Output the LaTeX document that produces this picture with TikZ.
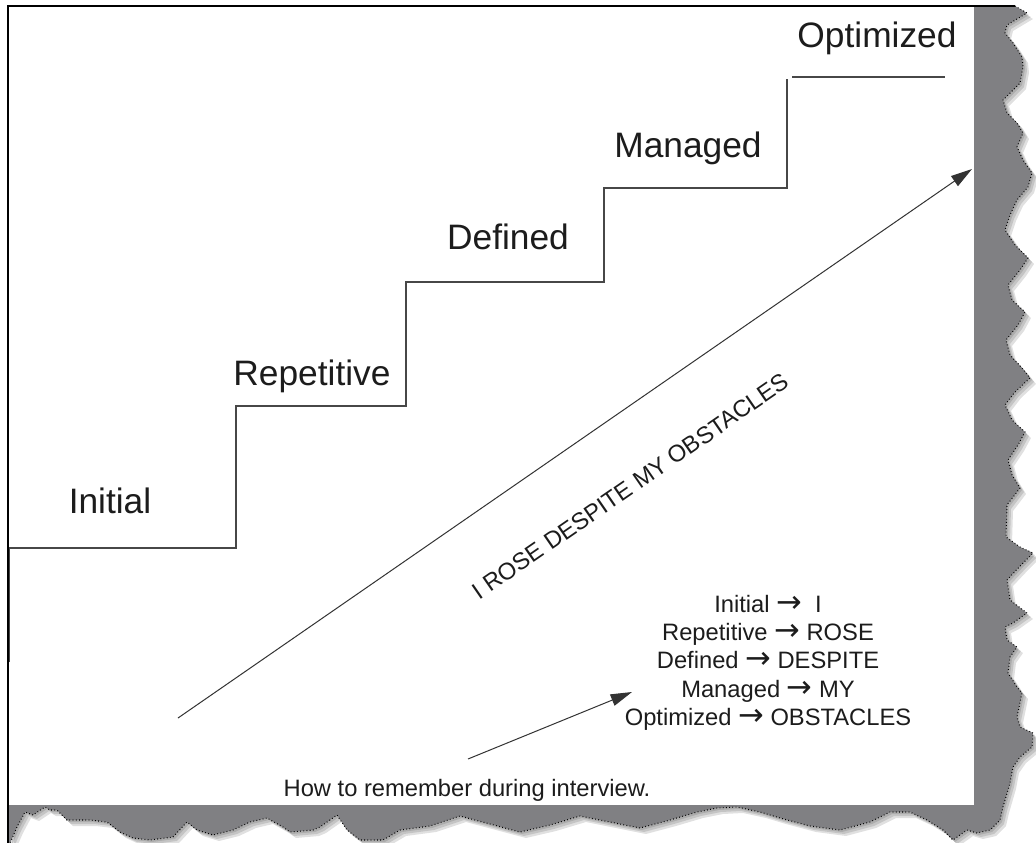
\documentclass[tikz,border=0pt]{standalone}
\usepackage{fontspec}
\setmainfont{Liberation Sans}
\newfontfamily\arrowfont{DejaVu Sans}
\newcommand\myarr{\raisebox{-0.6pt}{\arrowfont\fontsize{23}{21}\selectfont →}}
\usetikzlibrary{arrows.meta}
\definecolor{edgegray}{RGB}{128,128,131}
\definecolor{ink}{RGB}{28,28,28}
\begin{document}
\begin{tikzpicture}[x=0.75pt,y=-0.75pt,
  steplabel/.style={font=\fontsize{26.5}{30}\selectfont, text=ink, anchor=base, inner sep=0pt},
  smalltext/.style={font=\fontsize{17.8}{21}\selectfont, text=ink, anchor=base, inner sep=0pt},
  stair/.style={draw=black!72, line width=1.1pt},
  arr/.style={draw=black!80, line width=0.75pt, -{Triangle[length=16pt,width=9pt]}},
  tornedge/.style={draw=black, line width=0.8pt, dash pattern=on 0.6pt off 1.8pt},
  edgepts/.style={insert path={-- (1015,6) -- (1027,13) -- (1007,25) -- (1005,33) -- (1013,43) -- (1022,57) -- (1023,67) -- (1020,83) -- (1013,90) -- (1003,100) -- (1007,113) -- (1017,123) -- (1023,133) -- (1017,147) -- (1023,160) -- (1032,173) -- (1028,187) -- (1017,200) -- (1010,215) -- (1005,230) -- (1015,245) -- (1028,258) -- (1020,270) -- (1008,285) -- (1012,300) -- (1025,312) -- (1018,325) -- (1006,340) -- (1010,355) -- (1022,368) -- (1030,378) -- (1015,392) -- (1005,405) -- (1012,420) -- (1025,432) -- (1018,445) -- (1008,460) -- (1012,475) -- (1020,488) -- (1007,505) -- (1006,537) -- (1020,547) -- (1033,553) -- (1023,563) -- (1007,580) -- (1010,600) -- (1027,613) -- (1013,623) -- (1005,627) -- (1007,640) -- (1017,647) -- (1010,657) -- (1008,673) -- (1017,687) -- (1022,693) -- (1017,717) -- (1020,727) -- (1033,733) -- (1032,747) -- (1020,757) -- (1013,767) -- (1010,783) -- (1003,807) -- (1000,820) -- (990,830) -- (977,833) -- (967,830) -- (953,840) -- (943,830) -- (927,820) -- (910,812) -- (890,812) -- (870,822) -- (840,830) -- (810,826) -- (780,818) -- (760,812) -- (737,807) -- (717,808) -- (697,812) -- (670,820) -- (640,828) -- (610,822) -- (580,816) -- (550,825) -- (520,832) -- (490,824) -- (460,816) -- (430,826) -- (400,830) -- (383,840) -- (360,840) -- (347,830) -- (337,815) -- (320,827) -- (313,830) -- (290,832) -- (283,827) -- (267,818) -- (250,822) -- (233,830) -- (213,835) -- (197,830) -- (187,822) -- (173,837) -- (150,840) -- (133,838) -- (120,832) -- (107,822) -- (90,820) -- (80,820) -- (67,820) -- (57,810) -- (50,810) -- (45,807) -- (33,815) -- (25,812) -- (17,827) -- (10,843)}}
]
\useasboundingbox (0,0) rectangle (1036,843);
\fill[white] (0,0) rectangle (1036,843);

% torn edge with soft shadow
\foreach \d in {2,4,6}{
  \fill[black, opacity=0.12, shift={(\d,\d)}] (8,6) [edgepts] -- (8,843) -- cycle;
}
\fill[edgegray] (8,6) [edgepts] -- (8,843) -- cycle;
\fill[white] (8,6) rectangle (974,805);
\draw[tornedge] (1015,6) [edgepts];
\draw[black, line width=1.5pt] (8,843) -- (8,6) -- (1015,6);

% stairs
\draw[stair] (9.5,662) -- (9.5,548) -- (236,548) -- (236,406) -- (406,406) -- (406,282)
  -- (604,282) -- (604,188) -- (787,188) -- (787,79);
\draw[stair] (792,77) -- (945,77);

% step labels
\node[steplabel] (initial) at (110,513) {Initial};
\node[steplabel] (repetitive) at (312,385) {Repetitive};
\node[steplabel] (defined) at (508,249) {Defined};
\node[steplabel] (managed) at (688,157) {Managed};
\node[steplabel] (optimized) at (877,47) {Optimized};

% big arrow
\coordinate (bigstart) at (178,718);
\coordinate (bigend) at (972,169);
\draw[arr] (bigstart) -- (bigend);
\node[smalltext, rotate=34.6] (motto) at (635,493) {I ROSE DESPITE MY OBSTACLES};

% mnemonic block
\node[smalltext] (m1) at (768,612) {Initial \myarr\ \ I};
\node[smalltext] (m2) at (768,640) {Repetitive \myarr\ ROSE};
\node[smalltext] (m3) at (768,668) {Defined \myarr\ DESPITE};
\node[smalltext] (m4) at (768,697) {Managed \myarr\ MY};
\node[smalltext] (m5) at (768,725) {Optimized \myarr\ OBSTACLES};

% small arrow
\coordinate (smallstart) at (468,759);
\coordinate (smallend) at (632,692);
\draw[arr] (smallstart) -- (smallend);

\node[smalltext] (howto) at (467,796) {How to remember during interview.};
\end{tikzpicture}
\end{document}
